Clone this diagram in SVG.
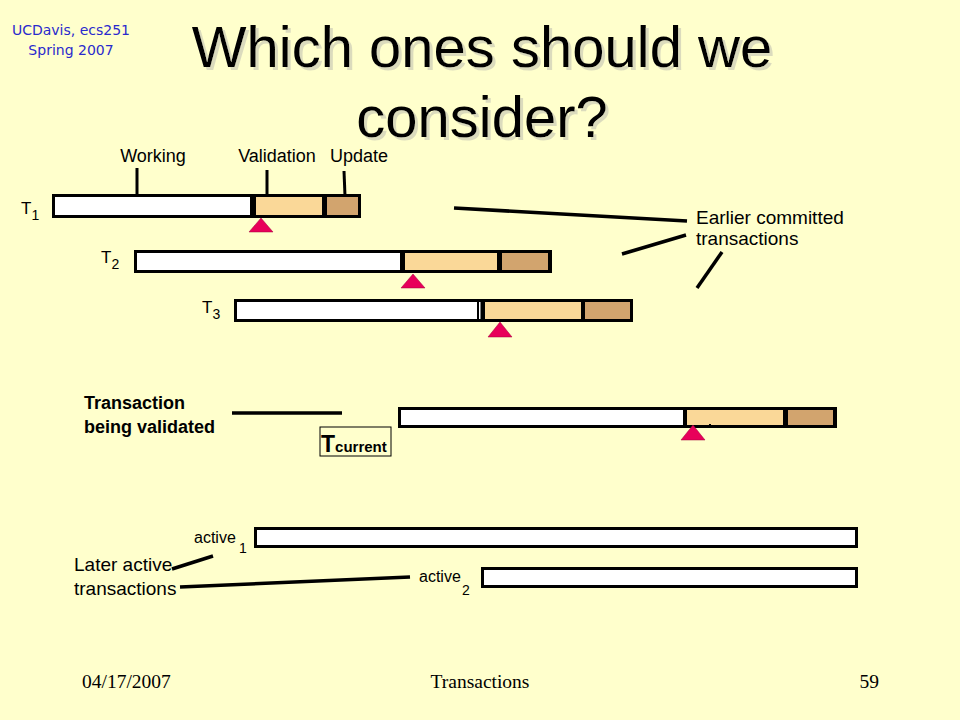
<svg xmlns="http://www.w3.org/2000/svg" width="960" height="720" viewBox="0 0 960 720">
<defs>
<filter id="shadow" x="-5%" y="-20%" width="110%" height="140%">
<feOffset in="SourceAlpha" dx="3" dy="3" result="off"/>
<feColorMatrix in="off" type="matrix" values="0 0 0 0 0.55  0 0 0 0 0.55  0 0 0 0 0.45  0 0 0 0.6 0" result="sh"/>
<feMerge><feMergeNode in="sh"/><feMergeNode in="SourceGraphic"/></feMerge>
</filter>
<style>
.lbl{font-family:"Liberation Sans",Arial,sans-serif;font-size:18px;fill:#000}
.sm{font-size:16px}
.sub{font-family:"Liberation Sans",Arial,sans-serif;font-size:14px;fill:#000}
.b{font-weight:bold}
.title{font-family:"Liberation Sans",Arial,sans-serif;font-size:58px;fill:#000;text-anchor:middle}
.foot{font-family:"Liberation Serif","Times New Roman",serif;font-size:19.5px;fill:#000}
.hdr{font-family:"DejaVu Sans",sans-serif;font-size:14px;fill:#2a2acc;text-anchor:middle}
.frame{fill:#000}
.work{fill:#fff}
.val{fill:#fad898}
.upd{fill:#d2a46e}
.tri{fill:#e8005a;stroke:#a0003c;stroke-width:0.5}
.conn{stroke:#000;stroke-width:3.5;fill:none;stroke-linecap:butt}
.tick{stroke:#000;stroke-width:3;fill:none}
</style>
</defs>
<rect x="0" y="0" width="960" height="720" fill="#ffffcc"/>
<g id="header">
<text class="hdr" x="71" y="35">UCDavis, ecs251</text>
<text class="hdr" x="71" y="55">Spring 2007</text>
</g>
<g id="title" filter="url(#shadow)">
<text class="title" x="482" y="67">Which ones should we</text>
<text class="title" x="482" y="137">consider?</text>
</g>
<g id="phase-labels">
<text class="lbl" x="153" y="162" text-anchor="middle">Working</text>
<text class="lbl" x="277" y="162" text-anchor="middle">Validation</text>
<text class="lbl" x="359" y="162" text-anchor="middle">Update</text>
<line class="tick" x1="137" y1="168" x2="137" y2="194"/>
<line class="tick" x1="267" y1="170" x2="267" y2="194"/>
<line class="tick" x1="344" y1="171" x2="345" y2="196"/>
</g>
<g id="T1">
<rect class="frame" x="52" y="194" width="309" height="24"/>
<rect class="work" x="55" y="197" width="195" height="18"/>
<rect class="val" x="256" y="197" width="66" height="18"/>
<rect class="upd" x="327" y="197" width="31" height="18"/>
<polygon class="tri" points="261,218 273,232 249,232"/>
<text class="lbl" x="21" y="214" style="font-size:17px">T<tspan class="sub" dy="6">1</tspan></text>
</g>
<g id="T2">
<rect class="frame" x="134" y="250" width="418" height="23"/>
<rect class="work" x="137" y="253" width="263" height="17"/>
<rect class="val" x="405" y="253" width="92" height="17"/>
<rect class="upd" x="502" y="253" width="46" height="17"/>
<polygon class="tri" points="413,274 425,288 401,288"/>
<text class="lbl" x="101" y="263" style="font-size:17px">T<tspan class="sub" dy="6">2</tspan></text>
</g>
<g id="T3">
<rect class="frame" x="234" y="299" width="399" height="23"/>
<rect class="work" x="237" y="302" width="240" height="17"/>
<rect class="work" x="479" y="302" width="1.5" height="17"/>
<rect class="val" x="485" y="302" width="96" height="17"/>
<rect class="upd" x="585" y="302" width="45" height="17"/>
<polygon class="tri" points="500,322 512,337 488,337"/>
<text class="lbl" x="202" y="313" style="font-size:17px">T<tspan class="sub" dy="6">3</tspan></text>
</g>
<g id="earlier-label">
<text class="lbl" x="696" y="224" style="font-size:19px">Earlier committed</text>
<text class="lbl" x="696" y="245" style="font-size:19px">transactions</text>
</g>
<g id="Tcurrent-bar">
<rect class="frame" x="398" y="407" width="439" height="21"/>
<rect class="work" x="401" y="410" width="282" height="15"/>
<rect class="val" x="687" y="410" width="96" height="15"/>
<rect class="upd" x="788" y="410" width="45" height="15"/>
<polygon class="tri" points="693,425 705,440 681,440"/>
<rect x="709" y="424" width="2" height="2" fill="#000"/>
</g>
<g id="validated-label">
<text class="lbl b" x="84" y="409">Transaction</text>
<text class="lbl b" x="84" y="433">being validated</text>
</g>
<g id="Tcurrent-box">
<rect x="320" y="427" width="71" height="29" fill="none" stroke="#000" stroke-width="1"/>
<text class="lbl b" x="321" y="452" style="font-size:23px">T<tspan style="font-size:15px">current</tspan></text>
</g>
<g id="active1">
<rect x="255.5" y="528.5" width="601" height="18" fill="#fff" stroke="#000" stroke-width="3"/>
<text class="lbl sm" x="194" y="543">active</text>
<text class="sub" x="239" y="553">1</text>
</g>
<g id="active2">
<rect x="482.5" y="568.5" width="374" height="18" fill="#fff" stroke="#000" stroke-width="3"/>
<text class="lbl sm" x="419" y="582">active</text>
<text class="sub" x="462" y="595">2</text>
</g>
<g id="later-label">
<text class="lbl" x="74" y="571" style="font-size:19px">Later active</text>
<text class="lbl" x="74" y="595" style="font-size:19px">transactions</text>
</g>
<g id="connectors">
<line class="conn" x1="454" y1="208" x2="687" y2="221"/>
<line class="conn" x1="622" y1="254" x2="686" y2="235"/>
<line class="conn" x1="697" y1="288" x2="722" y2="252"/>
<line class="conn" x1="232" y1="413" x2="342" y2="413"/>
<line class="conn" x1="172" y1="569" x2="213" y2="556"/>
<line class="conn" x1="180" y1="587" x2="410" y2="577"/>
</g>
<g id="footer">
<text class="foot" x="82" y="688">04/17/2007</text>
<text class="foot" x="480" y="688" text-anchor="middle">Transactions</text>
<text class="foot" x="879" y="688" text-anchor="end">59</text>
</g>
</svg>
